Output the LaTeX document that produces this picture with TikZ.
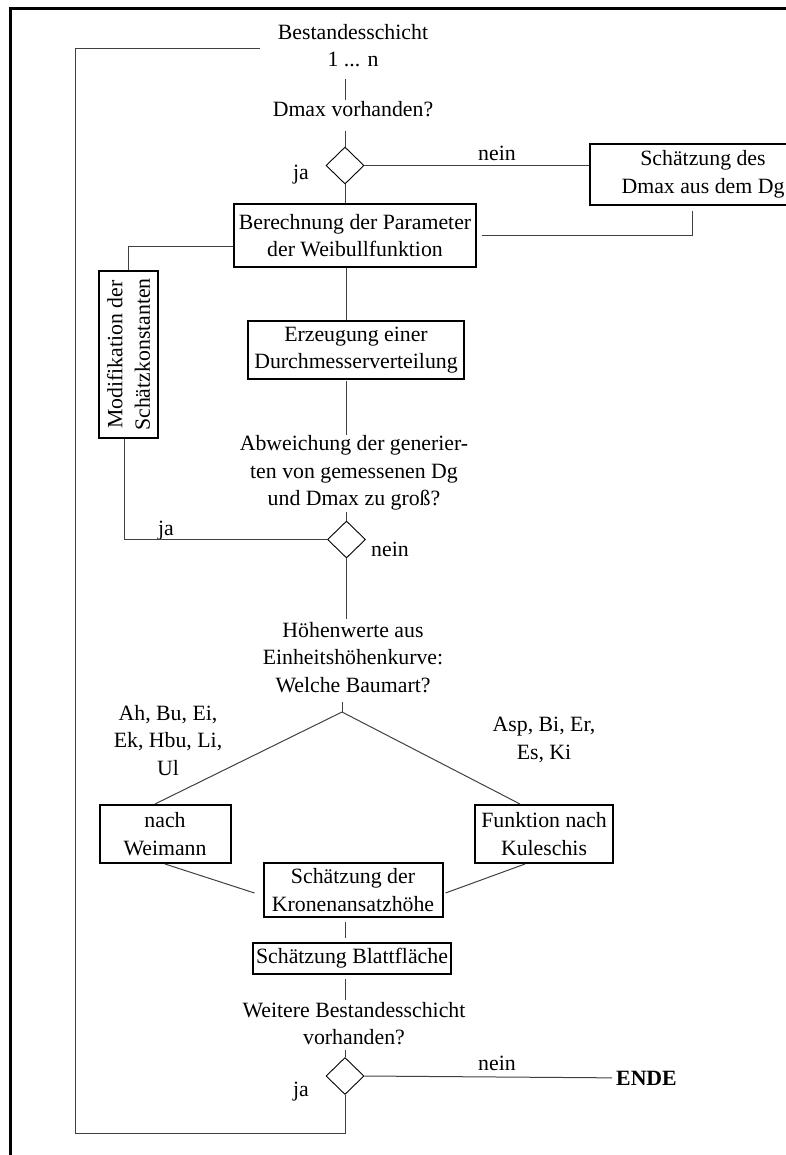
\documentclass[tikz,border=0pt]{standalone}
\usepackage{fontspec}
\setmainfont{Liberation Serif}
\usetikzlibrary{shapes.geometric}
\begin{document}
\begin{tikzpicture}[x=1pt,y=-1pt,
  every node/.style={font=\fontsize{21.8}{27.5}\selectfont, inner sep=0pt},
  box/.style={draw, line width=2pt, align=center},
  txt/.style={align=center},
  conn/.style={line width=1pt, draw=black!75},
  dia/.style={shape=diamond, draw, line width=0.9pt, minimum width=38pt, minimum height=37pt}]
\useasboundingbox (0,0) rectangle (786,1155);
% frame
\draw[line width=3pt] (790,8.5) -- (10,8.5) -- (10,1160);
% nodes
\node[txt] (top) at (353,45.6) {Bestandesschicht\\1 ... n};
\node[txt, anchor=base] (q1) at (353,117) {Dmax vorhanden?};
\node[dia] (d1) at (345,165.5) {};
\node[txt, anchor=base] (j1) at (301,180) {ja};
\node[txt, anchor=base] (n1) at (497,161) {nein};
\node[box, minimum width=226pt, minimum height=61pt] (est) at (703,174.5) {Schätzung des\\Dmax aus dem Dg};
\node[box, minimum width=242pt, minimum height=63pt] (ber) at (355,235.5) {Berechnung der Parameter\\der Weibullfunktion};
\node[box, minimum width=167pt, minimum height=59pt, rotate=90] (mod) at (128.5,354.5) {Modifikation der\\Schätzkonstanten};
\node[box, minimum width=216pt, minimum height=58pt] (erz) at (356,350) {Erzeugung einer\\Durchmesserverteilung};
\node[txt] (q2) at (354,473) {Abweichung der generier-\\ten von gemessenen Dg\\und Dmax zu groß?};
\node[dia] (d2) at (346.5,539.5) {};
\node[txt, anchor=base] (n2) at (390,556) {nein};
\node[txt, anchor=base] (j2) at (166,535) {ja};
\node[txt] (q3) at (353,657.5) {Höhenwerte aus\\Einheitshöhenkurve:\\Welche Baumart?};
\coordinate (fork) at (342,712);
\node[txt] (la) at (168,740.5) {Ah, Bu, Ei,\\Ek, Hbu, Li,\\Ul};
\node[txt] (lb) at (544,740) {Asp, Bi, Er,\\Es, Ki};
\node[box, minimum width=131pt, minimum height=58pt] (wei) at (165,834) {nach\\Weimann};
\node[box, minimum width=138.5pt, minimum height=58pt] (kul) at (544,834) {Funktion nach\\Kuleschis};
\node[box, minimum width=179pt, minimum height=54pt] (kro) at (353,890) {Schätzung der\\Kronenansatzhöhe};
\node[box, minimum width=198pt, minimum height=31pt] (bla) at (352,958.5) {Schätzung Blattfläche};
\node[txt] (q4) at (354,1023.6) {Weitere Bestandesschicht\\vorhanden?};
\node[dia] (d3) at (345,1076) {};
\node[txt, anchor=base] (n3) at (497,1070) {nein};
\node[txt, anchor=base] (j3) at (301,1096) {ja};
\node[txt, anchor=base west, font=\fontsize{21.8}{27.5}\selectfont\bfseries] (ende) at (616,1085) {ENDE};
\coordinate (lp) at (75,1133);
\coordinate (lpt) at (260,49);
% connectors
\draw[conn, shorten <=12pt, shorten >=2pt] (top.south -| d1.north) -- (q1.north -| d1.north);
\draw[conn, shorten <=13pt] (q1.south -| d1.north) -- (d1.north);
\draw[conn] (d1.south) -- (ber.north -| d1.south);
\draw[conn] (d1.east) -- (d1.east -| est.west);
\draw[conn, shorten <=5pt, shorten >=5pt] ([xshift=-11pt]est.south) |- (ber.east);
\draw[conn] ([yshift=-11.5pt]ber.west) -| (mod.east);
\draw[conn] ([xshift=-4.5pt]mod.west) |- (d2.west);
\draw[conn] (ber.south -| d2.north) -- (erz.north -| d2.north);
\draw[conn, shorten <=1pt] (erz.south -| d2.north) -- (q2.north -| d2.north);
\draw[conn, shorten <=1pt] (q2.south -| d2.north) -- (d2.north);
\draw[conn, shorten >=3pt] (d2.south) -- (q3.north -| d2.south);
\draw[conn, shorten <=9pt] (q3.south -| fork) -- (fork);
\draw[conn] (fork) -- ([xshift=-10pt]wei.north);
\draw[conn] (fork) -- ([xshift=-24pt]kul.north);
\draw[conn] (wei.south) -- ([xshift=-8pt,yshift=-3pt]kro.west);
\draw[conn] ([xshift=-19pt]kul.south) -- ([xshift=2pt,yshift=-3pt]kro.east);
\draw[conn, shorten <=4pt, shorten >=4pt] (kro.south -| d3.north) -- (bla.north -| d3.north);
\draw[conn, shorten <=4pt, shorten >=2pt] (bla.south -| d3.north) -- (q4.north -| d3.north);
\draw[conn, shorten <=5pt] (q4.south -| d3.north) -- (d3.north);
\draw[conn, shorten >=4pt] (d3.east) -- (ende.west);
\draw[conn] (d3.south) |- (lp) -- (lp |- lpt) -- (lpt);
\end{tikzpicture}
\end{document}
